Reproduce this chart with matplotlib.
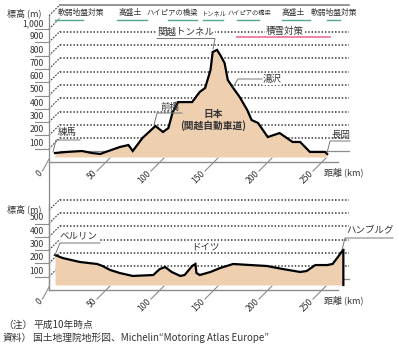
import matplotlib
matplotlib.use("Agg")
import matplotlib.pyplot as plt

plt.rcParams['font.family'] = ['Noto Sans CJK JP', 'DejaVu Sans']

# --- data -------------------------------------------------------------
# Japan: Kan-etsu expressway profile (km from Nerima, elevation m)
jp_km = [0, 11, 25, 34, 42, 47, 60, 68, 72, 81, 93, 100, 105, 109, 114, 127,
         134, 139, 144, 146, 150, 153, 157, 160, 165, 171, 178, 182, 188, 197,
         208, 220, 227, 236, 250, 252]
jp_m = [30, 38, 45, 30, 23, 38, 75, 90, 45, 143, 233, 188, 218, 338, 413, 413,
        489, 519, 654, 789, 805, 767, 707, 579, 519, 451, 353, 278, 256, 150,
        180, 113, 113, 38, 38, 23]

# Germany: Berlin - Hamburg profile
de_km = [0, 7, 23, 39, 44, 51, 60, 72, 91, 97, 102, 108, 116, 120, 127, 130,
         131, 134, 144, 153, 165, 181, 196, 211, 227, 233, 241, 252, 257, 262,
         266, 267, 267]
de_m = [226, 203, 173, 158, 143, 113, 90, 68, 75, 120, 135, 98, 68, 75, 143,
        158, 90, 75, 98, 128, 158, 150, 143, 120, 98, 105, 150, 150, 158, 211,
        256, 271, 0]

jp_yticks = [100, 200, 300, 400, 500, 600, 700, 800, 900, 1000]
jp_ylabels = ['100', '200', '300', '400', '500', '600', '700', '800', '900', '1,000']
de_yticks = [100, 200, 300, 400, 500]
de_ylabels = ['100', '200', '300', '400', '500']
jp_grid = [100, 200, 300, 400, 500, 600, 700, 800, 900]
de_grid = [100, 200, 300, 400, 500, 600]
km_ticks = [50, 100, 150, 200, 250]

# measures along the Japanese route (label, km start, km end, label km, size)
measures = [('軟弱地盤対策', 5.6, 31.5, 29.6, 5.6),
            ('高盛土', 63, 91, 75, 5.6),
            ('ハイピアの橋梁', 110, 137, 114.5, 5.3),
            ('トンネル', 143, 161, 153, 4.5),
            ('ハイピアの橋梁', 174, 194, 186, 4.5),
            ('高盛土', 216, 242, 226, 5.6),
            ('軟弱地盤対策', 257, 269, 264, 5.6)]
snow = ('積雪対策', 174, 260, 218.5)

# --- layout -----------------------------------------------------------
W, H = 398, 348
PX_KM = 1.08      # pixels per km
PX_M = 0.133      # pixels per metre
X0 = 49           # y axis position (px)
KM_MAX = 268
DEPTH = 11        # back wall offset (px)
BACK = (DEPTH / PX_KM, DEPTH / PX_M)
MID = (6 / PX_KM, 5 / PX_M)
TOP_Y0, BOT_Y0 = 162, 290

FILL = '#EECFAF'
GRID = '#3a3a3a'
AXC = '#8c8c8c'
TXT = '#333333'
GREEN = '#4FAA85'
PINK = '#EA7C9F'

fig = plt.figure(figsize=(W / 100, H / 100), dpi=100)


def pixel_axes():
    a = fig.add_axes([0, 0, 1, 1])
    a.set_xlim(0, W)
    a.set_ylim(H, 0)
    a.axis('off')
    return a


def crisp(y):
    return round(y - 0.5) + 0.5


# back wall (drawn first, behind the profiles)
wall = pixel_axes()


def draw_wall(y0, grid_vals, diag_vals, top_val):
    x1, x2 = X0 + DEPTH, X0 + KM_MAX * PX_KM + DEPTH
    for v in grid_vals:
        y = crisp(y0 - v * PX_M - DEPTH)
        wall.plot([x1, x2], [y, y], color=GRID, lw=1.15, ls=(0, (0.9, 1.2)),
                  solid_capstyle='butt', dash_capstyle='butt')
    for v in diag_vals:
        y = y0 - v * PX_M
        wall.plot([X0, X0 + DEPTH], [y, y - DEPTH], color=GRID, lw=0.8,
                  ls=(0, (1.5, 1.2)))
    if top_val is not None:
        y = crisp(y0 - top_val * PX_M - DEPTH)
        wall.plot([x1, x2], [y, y], color='#777777', lw=1.1)


draw_wall(TOP_Y0, jp_grid, jp_grid + [1000, 1100], 1100)
draw_wall(BOT_Y0, de_grid, de_grid, None)


def plane(y0, top_m):
    ax = fig.add_axes([X0 / W, (H - y0) / H, KM_MAX * PX_KM / W, top_m * PX_M / H])
    ax.set_xlim(0, KM_MAX)
    ax.set_ylim(0, top_m)
    ax.axis('off')
    return ax


def draw_chart(ax, yticks, ylabels, top_val, km, m):
    bx, by = BACK
    mx, my = MID
    kw = dict(clip_on=False)
    # floor
    ax.plot([bx, KM_MAX + bx], [by, by], color=AXC, lw=0.9, **kw)
    ax.plot([0, KM_MAX], [0, 0], color=AXC, lw=1.0, **kw)
    # y ticks and labels
    for v, lab in zip(yticks, ylabels):
        ax.plot([-14 / PX_KM, 0], [v, v], color=AXC, lw=0.8, **kw)
        ax.text(-5 / PX_KM, v + 1 / PX_M, lab, ha='right', va='bottom',
                fontsize=6.2, color=TXT, **kw)
    # x ticks (slanted)
    for k in [0] + km_ticks:
        if k == 0:
            x1, x2 = 0, -6
        else:
            x1, x2 = k + 7 / PX_KM, k - 6 / PX_KM
        ax.plot([x1, x2], [4 / PX_M if k else 3 / PX_M, -9 / PX_M],
                color=AXC, lw=0.8, **kw)
        ax.text(x2 - 1 / PX_KM, -10 / PX_M, str(k), rotation=45,
                rotation_mode='anchor', ha='right', va='center',
                fontsize=6.2, color=TXT, **kw)
    ax.text(254.6, -10 / PX_M, '距離 (km)', ha='left', va='center',
            fontsize=6.5, color=TXT, **kw)
    # profile
    xs = [k + mx for k in km]
    ax.fill_between(xs, [v + my for v in m], my, color=FILL, lw=0, zorder=3, **kw)
    ax.plot(xs, [v + my for v in m], color='black', lw=1.6, zorder=4,
            solid_joinstyle='miter', **kw)
    # y axis line
    ax.plot([0, 0], [0, top_val], color=AXC, lw=0.9, **kw)


top = plane(TOP_Y0, 1000)
draw_chart(top, jp_yticks, jp_ylabels, 1100, jp_km, jp_m)
bot = plane(BOT_Y0, 600)
draw_chart(bot, de_yticks, de_ylabels, 650, de_km, de_m)
# connect the y axis between the two charts
top.plot([0, 0], [0, -(BOT_Y0 - TOP_Y0) / PX_M], color=AXC, lw=0.9, clip_on=False)

# measure bars in the top chart
for lab, k1, k2, kc, fs in measures:
    top.plot([k1, k2], [(TOP_Y0 - 19.5) / PX_M] * 2, color=GREEN, lw=1.0,
             clip_on=False)
    top.text(kc, (TOP_Y0 - 13) / PX_M, lab, ha='center', va='center', fontsize=fs,
             color=TXT, clip_on=False)

# --- annotations (pixel overlay) -------------------------------------
deco = pixel_axes()
box = dict(boxstyle='square,pad=0.1', fc='white', ec='none')

lab, k1, k2, kc = snow
deco.text(X0 + kc * PX_KM, 31, lab, ha='center', va='center', fontsize=6.8,
          color=TXT, bbox=box)
deco.plot([X0 + k1 * PX_KM, X0 + k2 * PX_KM], [36.5, 36.5], color=PINK, lw=1.3,
          zorder=4)


def note(text, xc, yc, path, fs=6.8, bbox=None):
    deco.text(xc, yc, text, ha='center', va='center', fontsize=fs, color=TXT,
              bbox=bbox)
    deco.plot([p[0] for p in path], [p[1] for p in path], color='#777777', lw=0.7,
              zorder=4)


deco.text(24, 13, '標高 (m)', ha='center', va='center', fontsize=6.5, color=TXT)
deco.text(24, 209, '標高 (m)', ha='center', va='center', fontsize=6.5, color=TXT)
note('練馬', 67, 133, [(80, 140), (56, 140), (53, 152)])
note('前橋', 170, 107, [(182, 113), (157, 113), (154, 125)])
note('関越トンネル', 186, 32, [(157, 38.5), (215, 38.5), (213, 49)], bbox=box)
note('湯沢', 272, 79, [(262, 79), (238, 79), (233, 87)], bbox=box)
note('長岡', 341, 135, [(350, 141), (330, 141), (327, 153)])
deco.text(213, 114, '日本', ha='center', va='center', fontsize=7, weight='bold',
          color=TXT)
deco.text(213, 126, '(関越自動車道)', ha='center', va='center', fontsize=7,
          weight='bold', color=TXT)
note('ベルリン', 79, 236, [(100, 243), (60, 243), (55, 255)], bbox=box)
note('ドイツ', 205, 247, [], bbox=box)
note('ハンブルグ', 370, 231, [(393, 238), (345, 238), (342, 250)])

deco.text(3, 325, '（注）', ha='left', va='center', fontsize=7, color=TXT)
deco.text(33, 325, '平成10年時点', ha='left', va='center', fontsize=7, color=TXT)
deco.text(3, 338, '資料）', ha='left', va='center', fontsize=7, color=TXT)
deco.text(33, 338, '国土地理院地形図、Michelin“Motoring Atlas Europe”', ha='left',
          va='center', fontsize=7, color=TXT)

fig.savefig('out.png', dpi=100)
